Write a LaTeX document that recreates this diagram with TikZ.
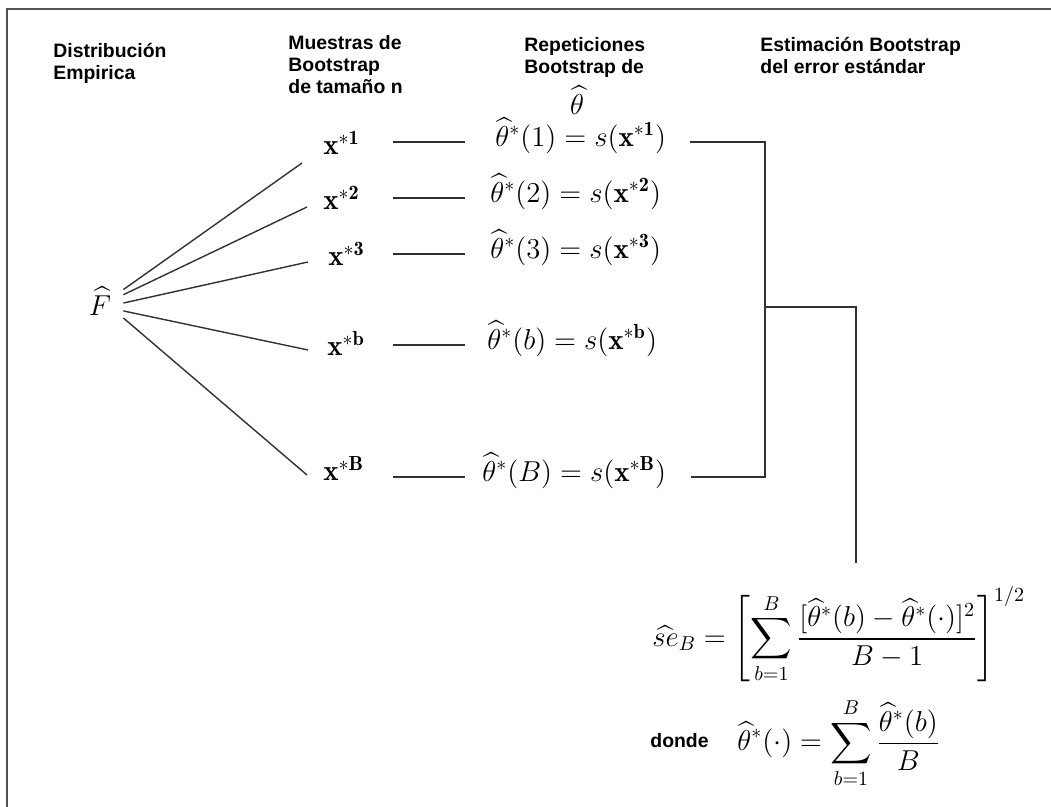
\documentclass[tikz,border=0pt]{standalone}
\usepackage{amsmath}
\usepackage{fontspec}
\setsansfont{Liberation Sans}
\usetikzlibrary{calc}
\definecolor{framecol}{RGB}{82,86,78}
\definecolor{linecol}{RGB}{50,50,46}
\begin{document}
\begin{tikzpicture}[x=0.5pt,y=-0.5pt,
  hdr/.style={font=\fontsize{9.7}{11}\selectfont\sffamily\bfseries, align=left, anchor=base west, inner sep=0pt},
  mth/.style={font=\fontsize{14.5}{17}\selectfont, inner sep=0pt},
  ln/.style={line width=0.7pt, draw=linecol},
  frm/.style={line width=1pt, draw=framecol}]
\useasboundingbox (0,0) rectangle (1051,807);
\draw[frm] (1051,9) -- (7,9) -- (7,807);

% headers (base anchor = baseline of last line)
\node[hdr] (h1) at (53,80) {Distribución\\Empirica};
\node[hdr] (h2) at (288,94) {Muestras de\\Bootstrap\\de tamaño n};
\node[hdr] (h3) at (524,74) {Repeticiones\\Bootstrap de};
\node[mth] (h3t) at (577,100) {$\widehat{\theta}$};
\node[hdr] (h4) at (760,74) {Estimación Bootstrap\\del error estándar};

% F hat
\node[mth, minimum width=23pt, minimum height=20pt] (F) at (100,301) {$\widehat{F}$};

% bootstrap samples
\node[mth, anchor=base west] (x1) at (323,155) {$\mathbf{x}^{*\mathbf{1}}$};
\node[mth, anchor=base west] (x2) at (323,210) {$\mathbf{x}^{*\mathbf{2}}$};
\node[mth, anchor=base west] (x3) at (328,266) {$\mathbf{x}^{*\mathbf{3}}$};
\node[mth, anchor=base west] (xb) at (327,356) {$\mathbf{x}^{*\mathbf{b}}$};
\node[mth, anchor=base west] (xB) at (323,481) {$\mathbf{x}^{*\mathbf{B}}$};

% replications
\node[mth, anchor=mid west] (t1) at (495,142) {$\widehat{\theta}^*(1) = s(\mathbf{x}^{*\mathbf{1}})$};
\node[mth, anchor=mid west] (t2) at (490,198) {$\widehat{\theta}^*(2) = s(\mathbf{x}^{*\mathbf{2}})$};
\node[mth, anchor=mid west] (t3) at (490,254) {$\widehat{\theta}^*(3) = s(\mathbf{x}^{*\mathbf{3}})$};
\node[mth, anchor=mid west] (tb) at (487,345) {$\widehat{\theta}^*(b) = s(\mathbf{x}^{*\mathbf{b}})$};
\node[mth, anchor=mid west] (tB) at (482,477) {$\widehat{\theta}^*(B) = s(\mathbf{x}^{*\mathbf{B}})$};

% formulas
\node[mth, anchor=west] (se) at (652,635) {$\displaystyle \widehat{se}_B = \left[\sum_{b=1}^{B}\frac{[\widehat{\theta}^*(b)-\widehat{\theta}^*(\cdot)]^2}{B-1}\right]^{1/2}$};
\node[hdr] (donde) at (650,748) {donde};
\node[mth, anchor=west] (avg) at (737,743) {$\displaystyle \widehat{\theta}^*(\cdot) = \sum_{b=1}^{B}\frac{\widehat{\theta}^*(b)}{B}$};

% fan from F
\draw[ln] (F.26) -- ($(x1.base west)+(-21,8)$);
\draw[ln] (F.15) -- ($(x2.base west)+(-16,-3)$);
\draw[ln] (F.-5) -- ($(x3.base west)+(-20,-4)$);
\draw[ln] (F.-23) -- ($(xb.base west)+(-19,-6)$);
\draw[ln] (F.-36) -- ($(xB.base west)+(-16,-6)$);

% horizontal connectors
\coordinate (L) at (393,0);
\coordinate (R) at (465,0);
\draw[ln] (t1.mid west -| L) -- (t1.mid west -| R);
\draw[ln] (t2.mid west -| L) -- (t2.mid west -| R);
\draw[ln] (t3.mid west -| L) -- (t3.mid west -| R);
\draw[ln] (tb.mid west -| L) -- (tb.mid west -| R);
\draw[ln] (tB.mid west -| L) -- (tB.mid west -| R);

% bracket
\coordinate (V) at (765,0);
\coordinate (W) at (856,0);
\coordinate (M) at (765,307);
\draw[ln] ($(t1.mid east)+(24,0)$) -- (t1.mid east -| V) -- (tB.mid east -| V) -- ($(tB.mid east)+(25,0)$);
\draw[ln] (M) -- (M -| W) -- ($(se.north -| W)+(0,-23)$);
\end{tikzpicture}
\end{document}
